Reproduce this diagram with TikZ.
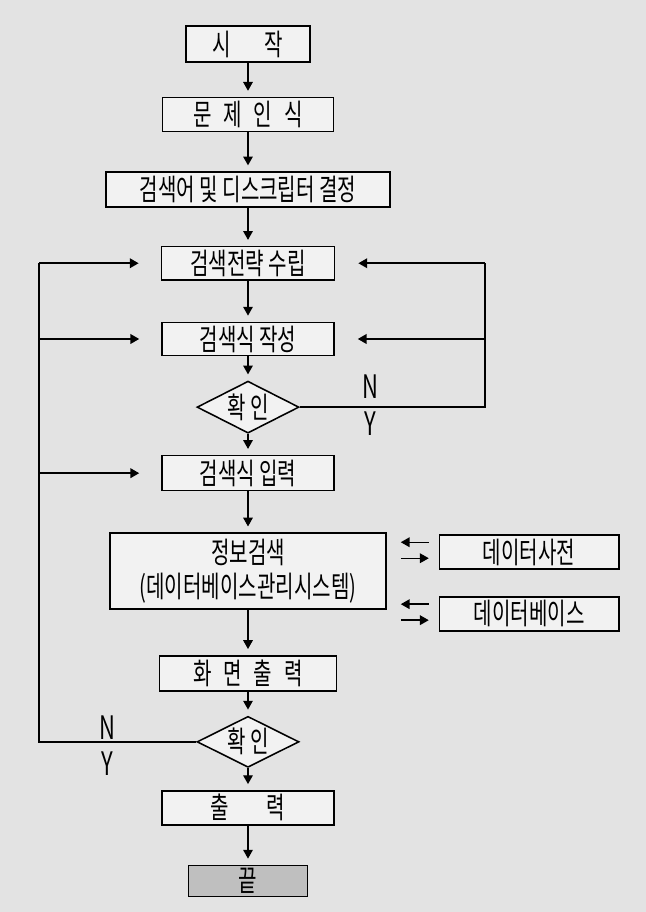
\documentclass[tikz,border=0pt]{standalone}
\usepackage{fontspec}
\newfontfamily\krfont[FakeStretch=0.68]{Noto Sans CJK KR}
\usepackage{tikz}
\usetikzlibrary{shapes.geometric,arrows.meta,positioning,calc}

\begin{document}
\begin{tikzpicture}[
        font=\krfont\fontsize{21}{24}\selectfont,
        box/.style={rectangle, draw, line width=1.1pt, fill=black!5, minimum height=0.85cm, inner sep=0pt},
        check/.style={diamond, aspect=2, draw, line width=1.1pt, fill=black!5, minimum width=2.55cm, minimum height=1.3cm, inner sep=0pt},
        side/.style={box, minimum width=4.48cm},
        arrow/.style={-{Triangle[length=2.2mm,width=2.4mm]}, line width=0.8pt, shorten >=0.15cm},
        loop/.style={line width=1.2pt},
        feed/.style={-{Triangle[length=2.2mm,width=2.4mm]}, line width=1.2pt},
        yn/.style={font=\krfont\fontsize{23}{24}\selectfont, inner sep=0pt}
    ]
        % Background
        \fill[black!11] (0,0) rectangle (16.15,-22.8);

        % Main flow
        \node[box, minimum width=3.1cm, minimum height=0.9cm] (start) at (6.2,-1.1) {시\hspace{0.85cm}작};
        \node[box, minimum width=4.28cm, below=0.85cm of start] (problem) {문\hspace{0.3cm}제\hspace{0.3cm}인\hspace{0.3cm}식};
        \node[box, minimum width=7.1cm, minimum height=0.875cm, below=0.975cm of problem] (keyword) {검색어 및 디스크립터 결정};
        \node[box, minimum width=4.33cm, minimum height=0.83cm, below=0.95cm of keyword] (plan) {검색전략 수립};
        \node[box, minimum width=4.3cm, minimum height=0.83cm, below=1.025cm of plan] (write) {검색식 작성};
        \node[check, below=0.6cm of write] (check1) {확 인};
        \node[box, minimum width=4.3cm, minimum height=0.875cm, below=0.525cm of check1] (input) {검색식 입력};
        \node[box, minimum width=6.9cm, minimum height=1.9cm, align=center, below=1.025cm of input] (info) {정보검색\\(데이터베이스관리시스템)};
        \node[box, minimum width=4.43cm, minimum height=0.875cm, below=1.125cm of info] (screen) {화\hspace{0.3cm}면\hspace{0.3cm}출\hspace{0.3cm}력};
        \node[check, minimum height=1.275cm, below=0.6cm of screen] (check2) {확 인};
        \node[box, minimum width=4.3cm, below=0.55cm of check2] (output) {출\hspace{0.95cm}력};
        \node[box, minimum width=2.98cm, minimum height=0.78cm, fill=black!25, below=0.975cm of output] (end) {끝};

        % Data stores
        \node[side, right=1.3cm of info.east, yshift=0.475cm] (dict) {데이터사전};
        \node[side, below=0.65cm of dict] (db) {데이터베이스};

        % Connections
        \draw[arrow] (start) -- (problem);
        \draw[arrow] (problem) -- (keyword);
        \draw[arrow] (keyword) -- (plan);
        \draw[arrow] (plan) -- (write);
        \draw[arrow] (write) -- (check1);
        \draw[arrow] (check1) -- (input);
        \draw[arrow] (input) -- (info);
        \draw[arrow] (info) -- (screen);
        \draw[arrow] (screen) -- (check2);
        \draw[arrow] (check2) -- (output);
        \draw[arrow] (output) -- (end);

        % Loop back (left)
        \coordinate (lbus) at (0.975,0);
        \draw[loop] (check2.west) -- (check2.west -| lbus) -- (plan.west -| lbus);
        \draw[feed, shorten >=0.55cm] (plan.west -| lbus) -- (plan.west);
        \draw[feed, shorten >=0.55cm] (write.west -| lbus) -- (write.west);
        \draw[feed, shorten >=0.55cm] (input.west -| lbus) -- (input.west);

        % Loop back (right)
        \coordinate (rbus) at (12.125,0);
        \draw[loop] (check1.east) -- (check1.east -| rbus) -- (plan.east -| rbus);
        \draw[feed, shorten >=0.575cm] (plan.east -| rbus) -- (plan.east);
        \draw[feed, shorten >=0.575cm] (write.east -| rbus) -- (write.east);

        % N / Y
        \node[yn] (n1) at ([xshift=1.76cm, yshift=0.5cm]check1.east) {N};
        \node[yn] (y1) at ([xshift=1.76cm, yshift=-0.42cm]check1.east) {Y};
        \node[yn] (n2) at ([xshift=-2.225cm, yshift=0.35cm]check2.west) {N};
        \node[yn] (y2) at ([xshift=-2.225cm, yshift=-0.55cm]check2.west) {Y};

        % Exchange with data stores
        \draw[feed, line width=1pt] ([shift={(-0.25,0.25)}]dict.west) -- ++(-0.7,0);
        \draw[feed, line width=1pt] ([shift={(-0.95,-0.15)}]dict.west) -- ++(0.7,0);
        \draw[feed, line width=1pt] ([shift={(-0.25,0.24)}]db.west) -- ++(-0.7,0);
        \draw[feed, line width=1pt] ([shift={(-0.95,-0.16)}]db.west) -- ++(0.7,0);

    \end{tikzpicture}
\end{document}
